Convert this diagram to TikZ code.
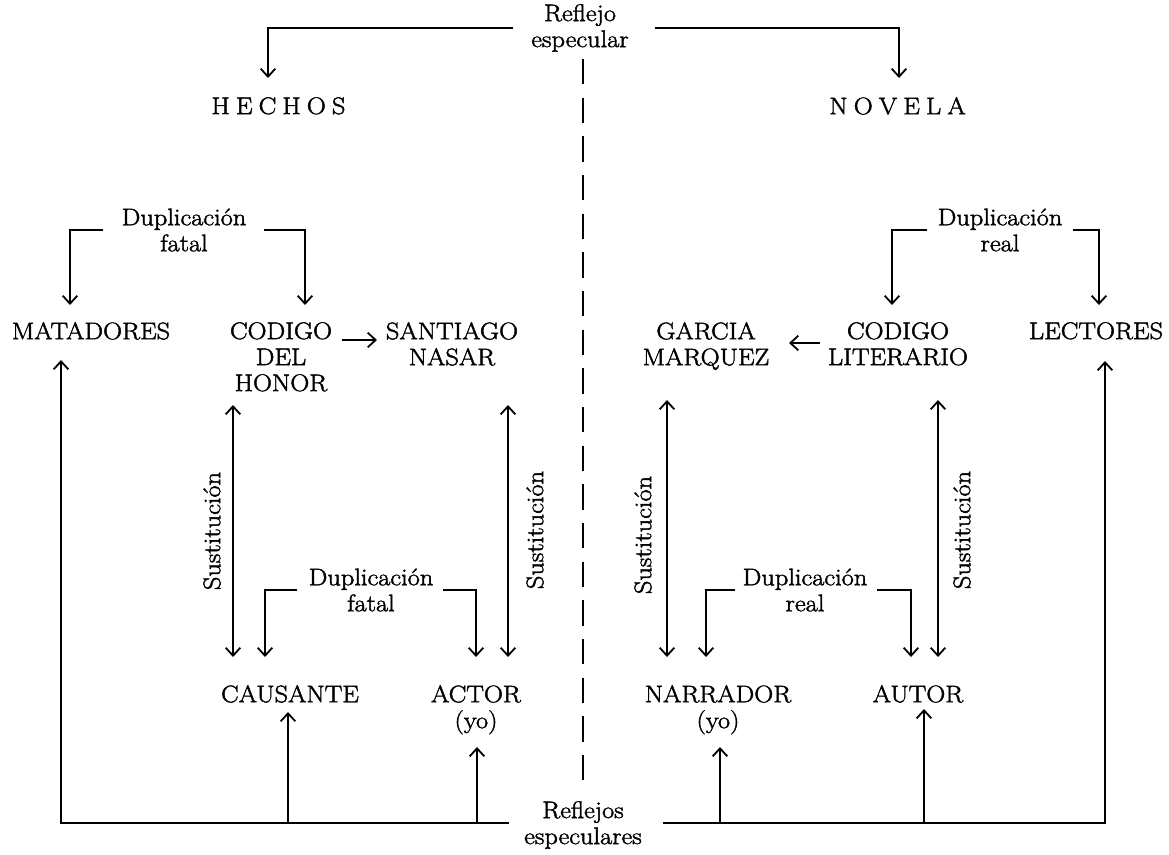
\documentclass[tikz,border=0pt]{standalone}
\usepackage{fontspec}
\setmainfont{Latin Modern Roman}[FakeBold=1.8,FakeStretch=1.1]
\usetikzlibrary{arrows.meta,calc}
\begin{document}
\begin{tikzpicture}[x=0.75pt,y=-0.75pt]
\tikzset{
  lbl/.style={font=\fontsize{18}{19.5}\selectfont, inner sep=0pt, align=center},
  arr/.style={line width=1.35pt, -{Straight Barb[length=6pt,width=11pt]}},
  dbl/.style={line width=1.35pt, {Straight Barb[length=6pt,width=11pt]}-{Straight Barb[length=6pt,width=11pt]}},
  mirror/.style={line width=1.35pt, dash pattern=on 19pt off 10pt}
}
\fill[white] (0,0) rectangle (1169,854);
\useasboundingbox (0,0) rectangle (1169,854);

% headings
\node[lbl] (refl) at (580,28) {Reflejo\\especular};
\node[lbl,anchor=north] (hechos) at (278.5,97) {H\hspace{4.6pt}E\hspace{4.6pt}C\hspace{4.6pt}H\hspace{4.6pt}O\hspace{4.6pt}S};
\node[lbl,anchor=north] (novela) at (897.5,97) {N\hspace{4.6pt}O\hspace{4.6pt}V\hspace{4.6pt}E\hspace{4.6pt}L\hspace{4.6pt}A};

% upper row
\node[lbl] (dupA) at (184,230) {Duplicación\\fatal};
\node[lbl] (dupB) at (1000,230) {Duplicación\\real};
\node[lbl,anchor=north] (matadores) at (91,322) {MATADORES};
\node[lbl,anchor=north] (honor) at (281,322) {CODIGO\\DEL\\HONOR};
\node[lbl,anchor=north] (nasar) at (452,322) {SANTIAGO\\NASAR};
\node[lbl,anchor=north] (garcia) at (706,322) {GARCIA\\MARQUEZ};
\node[lbl,anchor=north] (literario) at (898,322) {CODIGO\\LITERARIO};
\node[lbl,anchor=north] (lectores) at (1096,322) {LECTORES};

% substitution labels
\node[lbl,rotate=90] (sustA) at (212,531) {Sustitución};
\node[lbl,rotate=90] (sustB) at (535,530) {Sustitución};
\node[lbl,rotate=90] (sustC) at (643,535) {Sustitución};
\node[lbl,rotate=90] (sustD) at (962,530) {Sustitución};

% lower row
\node[lbl] (dupC) at (371,590) {Duplicación\\fatal};
\node[lbl] (dupD) at (805,590) {Duplicación\\real};
\node[lbl,anchor=north] (causante) at (290,685) {CAUSANTE};
\node[lbl,anchor=north] (actor) at (476,685) {ACTOR\\(yo)};
\node[lbl,anchor=north] (narrador) at (718,685) {NARRADOR\\(yo)};
\node[lbl,anchor=north] (autor) at (918,685) {AUTOR};
\node[lbl] (reflejos) at (583,825) {Reflejos\\especulares};

% mirror reflection at the top
\draw[arr] ($(refl.center)+(-67,0)$) -| ($(hechos.north)+(-10.5,-19)$);
\draw[arr] ($(refl.center)+(75,0)$) -| ($(novela.north)+(1.5,-19)$);
\draw[mirror] ($(refl.south)+(3,7)$) -- ($(reflejos.north)+(0,-21)$);

% upper duplications
\draw[arr] ($(dupA.center)+(-81,0)$) -| ($(matadores.north)+(-21,-17)$);
\draw[arr] ($(dupA.center)+(80,0)$) -| ($(honor.north)+(24,-17)$);
\draw[arr] ($(dupB.center)+(-73,0)$) -| ($(literario.north)+(-6,-17)$);
\draw[arr] ($(dupB.center)+(73,0)$) -| ($(lectores.north)+(3,-17)$);

% codes
\draw[arr] ($(honor.north)+(61,18)$) -- ($(nasar.north)+(-75,18)$);
\draw[arr] ($(literario.north)+(-78.5,21)$) -- ($(garcia.north)+(83,21)$);

% substitutions
\draw[dbl] ($(honor.north)+(-48,83)$) -- ($(causante.north)+(-57,-28)$);
\draw[dbl] ($(nasar.north)+(56,83)$) -- ($(actor.north)+(32,-28)$);
\draw[dbl] ($(garcia.north)+(-39,78)$) -- ($(narrador.north)+(-51,-28)$);
\draw[dbl] ($(literario.north)+(40,78)$) -- ($(autor.north)+(20,-28)$);

% lower duplications
\draw[arr] ($(dupC.center)+(-74,0)$) -| ($(causante.north)+(-25,-28)$);
\draw[arr] ($(dupC.center)+(72,0)$) -| ($(actor.north)+(0,-28)$);
\draw[arr] ($(dupD.center)+(-70,0)$) -| ($(narrador.north)+(-12,-28)$);
\draw[arr] ($(dupD.center)+(72,0)$) -| ($(autor.north)+(-7,-28)$);

% mirror reflections at the bottom
\draw[arr] ($(reflejos.center)+(-74,-2)$) -| ($(matadores.north)+(-30,38)$);
\draw[arr] ($(reflejos.center)+(80,-2)$) -| ($(lectores.north)+(9,39)$);
\draw[arr] ($(causante.north)+(-2,138)$) -- ($(causante.north)+(-2,27)$);
\draw[arr] ($(actor.north)+(1,138)$) -- ($(actor.north)+(1,62)$);
\draw[arr] ($(narrador.north)+(2,138)$) -- ($(narrador.north)+(2,62)$);
\draw[arr] ($(autor.north)+(6,138)$) -- ($(autor.north)+(6,24)$);
\end{tikzpicture}
\end{document}
